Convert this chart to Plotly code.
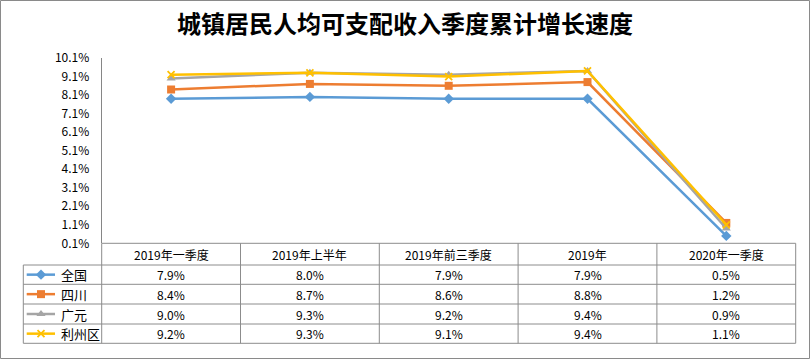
import plotly.graph_objects as go

# ---------------- data ----------------
categories = ["2019年一季度", "2019年上半年", "2019年前三季度", "2019年", "2020年一季度"]
series_names = ["全国", "四川", "广元", "利州区"]
quanguo = [7.9, 8.0, 7.9, 7.9, 0.5]
sichuan = [8.4, 8.7, 8.6, 8.8, 1.2]
guangyuan = [9.0, 9.3, 9.2, 9.4, 0.9]
lizhou = [9.2, 9.3, 9.1, 9.4, 1.1]
y_tick_values = [0.1, 1.1, 2.1, 3.1, 4.1, 5.1, 6.1, 7.1, 8.1, 9.1, 10.1]
y_tick_labels = ["0.1%", "1.1%", "2.1%", "3.1%", "4.1%", "5.1%", "6.1%", "7.1%", "8.1%", "9.1%", "10.1%"]
title_text = "城镇居民人均可支配收入季度累计增长速度"

series_values = [quanguo, sichuan, guangyuan, lizhou]
colors = ["#5B9BD5", "#ED7D31", "#A5A5A5", "#FFC000"]
symbols = ["diamond", "square", "triangle-up", "x-thin"]
msizes = [8, 8, 8, 7]

# ---------------- geometry (pixels) ----------------
W, H = 811, 360
X0, X1 = 101.7, 795.7     # plot area left/right
YT, YB = 58.0, 243.3      # plot area top/bottom
LEG_L = 23.3              # table legend column left edge
row_lines = [265.0, 284.3, 304.0, 324.0, 343.3]
GRID = "#8C8C8C"
FONT = "Noto Sans CJK SC"


def px(x):
    return x / W


def py(y):
    return 1 - y / H


ncat = len(categories)
colw = (X1 - X0) / ncat

fig = go.Figure()

for name, vals, c, s, ms in zip(series_names, series_values, colors, symbols, msizes):
    fig.add_trace(go.Scatter(
        x=categories, y=vals, name=name, mode="lines+markers",
        line=dict(color=c, width=2.5),
        marker=dict(symbol=s, size=ms, color=c, line=dict(color=c, width=1.8 if s == "x-thin" else 0)),
        cliponaxis=False, showlegend=False, xaxis="x", yaxis="y",
    ))

# legend keys in table (pixel coordinate overlay axes)
for i, (name, c, s, ms) in enumerate(zip(series_names, colors, symbols, msizes)):
    yc = (row_lines[i] + row_lines[i + 1]) / 2
    fig.add_trace(go.Scatter(
        x=[26.7, 55.0], y=[yc, yc], mode="lines", line=dict(color=c, width=2.5),
        xaxis="x2", yaxis="y2", showlegend=False, hoverinfo="skip", cliponaxis=False,
    ))
    fig.add_trace(go.Scatter(
        x=[41.0], y=[yc], mode="markers",
        marker=dict(symbol=s, size=ms, color=c, line=dict(color=c, width=1.8 if s == "x-thin" else 0)),
        xaxis="x2", yaxis="y2", showlegend=False, hoverinfo="skip", cliponaxis=False,
    ))

shapes = []
line_style = dict(color=GRID, width=1)
# outer border
shapes.append(dict(type="rect", xref="paper", yref="paper", x0=px(0.5), x1=px(809.5), y0=py(0.5), y1=py(358.5),
                   line=dict(color="#8A8A8A", width=1)))
# table horizontal lines
shapes.append(dict(type="line", xref="paper", yref="paper", x0=px(X0), x1=px(X1), y0=py(YB), y1=py(YB), line=line_style))
for yl in row_lines:
    shapes.append(dict(type="line", xref="paper", yref="paper", x0=px(LEG_L), x1=px(X1), y0=py(yl), y1=py(yl), line=line_style))
# table vertical lines
shapes.append(dict(type="line", xref="paper", yref="paper", x0=px(LEG_L), x1=px(LEG_L), y0=py(row_lines[0]), y1=py(row_lines[-1]), line=line_style))
for k in range(ncat + 1):
    xv = X0 + k * colw
    shapes.append(dict(type="line", xref="paper", yref="paper", x0=px(xv), x1=px(xv), y0=py(YB), y1=py(row_lines[-1]), line=line_style))

annotations = []
annotations.append(dict(text="<b>" + title_text + "</b>", xref="paper", yref="paper", x=px(405), y=py(22),
                        showarrow=False, font=dict(family=FONT, size=24, color="#000000"),
                        xanchor="center", yanchor="middle"))
for j, cat in enumerate(categories):
    xc = X0 + (j + 0.5) * colw
    annotations.append(dict(text=cat, xref="paper", yref="paper", x=px(xc), y=py((YB + row_lines[0]) / 2),
                            showarrow=False, font=dict(family=FONT, size=12, color="#000000"),
                            xanchor="center", yanchor="middle"))
    for i, vals in enumerate(series_values):
        yc = (row_lines[i] + row_lines[i + 1]) / 2
        annotations.append(dict(text=f"{vals[j]:.1f}%", xref="paper", yref="paper", x=px(xc), y=py(yc),
                                showarrow=False, font=dict(family=FONT, size=12, color="#000000"),
                                xanchor="center", yanchor="middle"))
for i, name in enumerate(series_names):
    yc = (row_lines[i] + row_lines[i + 1]) / 2
    annotations.append(dict(text=name, xref="paper", yref="paper", x=px(58.5), y=py(yc),
                            showarrow=False, font=dict(family=FONT, size=13, color="#000000"),
                            xanchor="left", yanchor="middle"))

fig.update_layout(
    width=W, height=H,
    margin=dict(l=0, r=0, t=0, b=0, autoexpand=False),
    paper_bgcolor="white", plot_bgcolor="rgba(0,0,0,0)",
    showlegend=False,
    xaxis=dict(domain=[px(X0), px(X1)], type="category", range=[-0.5, ncat - 0.5],
               showticklabels=False, showgrid=False, zeroline=False, showline=False, ticks="",
               anchor="y", fixedrange=True),
    yaxis=dict(domain=[py(YB), py(YT)], range=[y_tick_values[0], y_tick_values[-1]],
               tickvals=y_tick_values, ticktext=y_tick_labels,
               showgrid=False, zeroline=False, showline=True, linecolor="#868686", linewidth=1,
               ticks="", ticklabelstandoff=9,
               tickfont=dict(family=FONT, size=12, color="#000000"), anchor="x", fixedrange=True),
    xaxis2=dict(domain=[0, 1], range=[0, W], visible=False, anchor="y2", fixedrange=True),
    yaxis2=dict(domain=[0, 1], range=[H, 0], visible=False, anchor="x2", fixedrange=True),
    shapes=shapes,
    annotations=annotations,
)

fig.write_html(
    "out.html",
    config={"displayModeBar": False},
    post_script="document.body.style.margin='0';document.body.style.overflow='hidden';",
)
